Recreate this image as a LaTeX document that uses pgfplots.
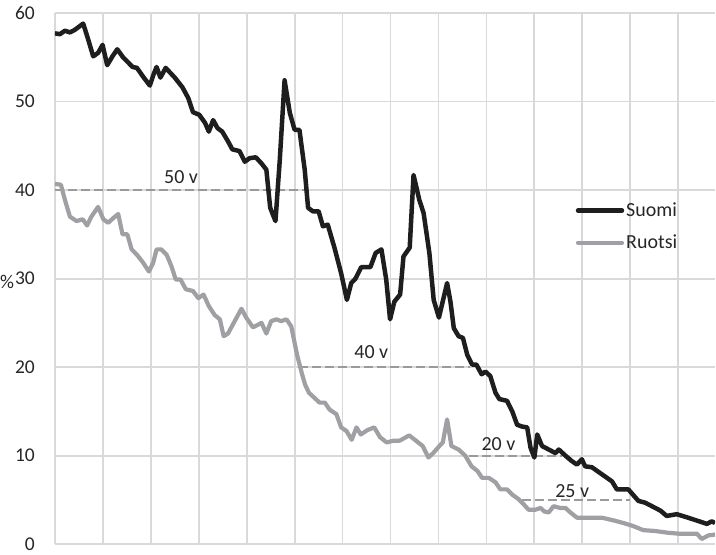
\documentclass[border=0pt]{standalone}
\usepackage{fontspec}
\setmainfont{Carlito}
\usepackage{pgfplots}
\pgfplotsset{compat=1.18}
\definecolor{suomi}{HTML}{1E1E1E}
\definecolor{ruotsi}{HTML}{9FA0A3}
\definecolor{gridc}{HTML}{D9D9D9}
\definecolor{dashc}{HTML}{9A9A9A}
\begin{document}
\begin{tikzpicture}
\begin{axis}[
  scale only axis,
  width=661pt, height=532pt,
  xmin=0, xmax=137.7, ymin=0, ymax=60,
  xtick={0,10,...,130}, xticklabels={},
  ytick={0,10,...,60},
  axis line style={draw=none},
  grid=major,
  major grid style={gridc, line width=1.8pt},
  major tick length=0pt,
  clip mode=individual,
  /pgf/number format/assume math mode=true,
  tick label style={font=\fontsize{19.5}{22}\selectfont, text=black!85},
  yticklabel style={inner sep=0pt, anchor=east, xshift=-20pt},
  legend style={at={(axis cs:108.6,38.8)}, anchor=north west, draw=none, fill=none,
    font=\fontsize{20}{23}\selectfont, row sep=13pt, inner xsep=0pt, inner ysep=0pt,
    text=black!85},
  legend cell align=left,
  legend image code/.code={\draw[#1, line cap=round] (0pt,0pt) -- (44pt,0pt);},
  every axis plot/.append style={line join=round},
]
% reference-age dashed lines
\addplot[forget plot, dashc, line width=2pt, dash pattern=on 9pt off 4pt] coordinates {(0,40) (52.3,40)};
\addplot[forget plot, dashc, line width=2pt, dash pattern=on 9pt off 4pt] coordinates {(51,20) (86.5,20)};
\addplot[forget plot, dashc, line width=2pt, dash pattern=on 9pt off 4pt] coordinates {(86.3,10) (105.8,10)};
\addplot[forget plot, dashc, line width=2pt, dash pattern=on 9pt off 4pt] coordinates {(97.4,5) (120,5)};
% Suomi
\addplot[suomi, line width=4.5pt] coordinates {
(0,57.7) (1.04,57.6) (2.08,58.0) (3.13,57.8) (4.17,58.1) (5.9,58.8) (6.94,57.0) (7.98,55.1)
(9.02,55.5) (9.94,56.4) (10.9,54.1) (12.0,55.1) (13.0,55.9) (14.2,55.0) (16.2,53.9) (17.1,53.8)
(18.4,52.8) (19.8,51.8) (20.6,53.1) (21.2,53.9) (22.0,52.7) (23.1,53.8) (25.0,52.7) (26.6,51.6)
(27.8,50.4) (28.8,48.8) (30.1,48.5) (31.3,47.6) (32.1,46.6) (33.0,47.9) (33.9,47.0) (34.9,46.6)
(36.1,45.5) (37.0,44.6) (38.5,44.4) (39.6,43.2) (40.6,43.6) (41.9,43.7) (43.1,43.0) (44.1,42.3)
(44.9,38.0) (46.0,36.5) (46.9,43.4) (47.9,52.4) (49.0,48.7) (50.0,46.8) (51.0,46.8) (52.1,42.3)
(52.8,38.0) (53.8,37.6) (55.0,37.6) (55.9,35.9) (56.9,36.1) (58.3,33.5) (59.7,30.6) (60.9,27.6)
(61.8,29.5) (62.7,30.0) (63.9,31.3) (65.8,31.3) (66.9,32.9) (68.1,33.3) (69.1,29.9) (69.9,25.4)
(70.8,27.4) (72.0,28.2) (72.7,32.5) (74.0,33.5) (74.8,41.7) (76.0,38.9) (76.9,37.4) (78.1,32.9)
(79.0,27.6) (80.1,25.6) (80.4,26.3) (81.8,29.5) (82.5,27.4) (83.2,24.4) (84.2,23.5) (85.1,23.3)
(86.0,21.4) (87.0,20.3) (87.9,20.3) (89.0,19.2) (89.8,19.5) (90.8,19.0) (91.9,17.1) (92.7,16.4)
(94.3,16.2) (95.4,15.0) (96.4,13.5) (97.4,13.3) (98.5,13.2) (99.2,10.9) (100.0,9.8) (100.6,12.4)
(101.6,11.1) (103.0,10.7) (104.4,10.3) (105.1,10.7) (106.5,10.0) (107.8,9.4) (108.9,9.0) (109.9,9.6)
(110.6,8.8) (112.0,8.7) (114.1,7.9) (116.2,7.1) (117.2,6.2) (119.6,6.2) (121.7,4.9) (123.1,4.7)
(126.3,3.8) (127.6,3.2) (129.7,3.4) (132.1,3.0) (136.0,2.3) (137.0,2.6) (137.7,2.4)
};
\addlegendentry{Suomi}
% Ruotsi
\addplot[ruotsi, line width=4.2pt] coordinates {
(0,40.7) (1.25,40.6) (2.08,38.9) (3.13,37.0) (4.5,36.5) (5.8,36.7) (6.7,36.0) (7.6,37.0)
(9.0,38.1) (10.1,36.7) (11.1,36.3) (12.1,36.8) (13.2,37.3) (14.1,35.0) (15.1,35.0) (16.0,33.3)
(17.1,32.7) (18.4,31.8) (19.6,30.8) (20.5,31.8) (21.2,33.3) (22.2,33.3) (23.3,32.7) (24.3,31.4)
(25.2,29.9) (26.2,29.9) (27.3,28.8) (28.8,28.6) (29.9,27.8) (31.0,28.2) (32.1,26.9) (33.3,25.9)
(34.4,25.4) (35.2,23.5) (36.1,23.8) (37.5,25.2) (38.9,26.6) (39.9,25.6) (41.3,24.5) (43.1,25.0)
(44.1,23.8) (45.1,25.2) (46.2,25.4) (47.2,25.2) (48.3,25.4) (49.3,24.6) (50.5,21.4) (51.6,19.1)
(52.2,18.0) (53.0,17.1) (54.2,16.5) (55.2,16.0) (56.3,16.0) (57.3,15.2) (58.7,14.7) (59.7,13.2)
(60.8,12.8) (61.9,11.8) (62.9,13.2) (63.8,12.4) (65.2,12.9) (66.6,13.2) (67.8,12.1) (69.2,11.5)
(70.6,11.7) (71.9,11.7) (72.9,12.0) (73.9,12.3) (75.3,11.7) (76.7,11.1) (77.9,9.8) (78.9,10.3)
(80.2,11.1) (80.9,11.5) (81.8,14.1) (82.7,11.1) (84.2,10.7) (85.6,10.0) (86.9,8.8) (88.1,8.3)
(89.1,7.5) (90.5,7.5) (91.9,7.0) (92.9,6.2) (94.3,6.2) (95.4,5.6) (96.7,5.1) (97.8,4.5)
(98.8,3.9) (100.2,3.9) (101.3,4.1) (102.1,3.7) (103.0,3.6) (104.0,4.3) (105.4,4.1) (106.5,4.1)
(107.5,3.6) (108.9,3.0) (111.3,3.0) (114.1,3.0) (116.5,2.7) (118.6,2.4) (120.4,2.1) (122.7,1.6)
(125.2,1.5) (127.9,1.3) (130.1,1.2) (133.9,1.2) (134.9,0.6) (136.3,1.0) (137.7,1.1)
};
\addlegendentry{Ruotsi}
% labels
\node[font=\fontsize{20}{23}\selectfont, text=black!85] at (axis cs:26.3,41.5) {50 v};
\node[font=\fontsize{20}{23}\selectfont, text=black!85] at (axis cs:66,21.7) {40 v};
\node[font=\fontsize{20}{23}\selectfont, text=black!85] at (axis cs:92.5,11.3) {20 v};
\node[font=\fontsize{20}{23}\selectfont, text=black!85] at (axis cs:107.9,6.0) {25 v};
\node[font=\fontsize{19.5}{22}\selectfont, text=black!85, inner sep=0pt] at (axis description cs:-0.0725,0.494) {\%};
% bounding box
\path (axis description cs:-0.0832,-0.0188) rectangle (axis description cs:1,1.0244);
\end{axis}
\end{tikzpicture}
\end{document}
